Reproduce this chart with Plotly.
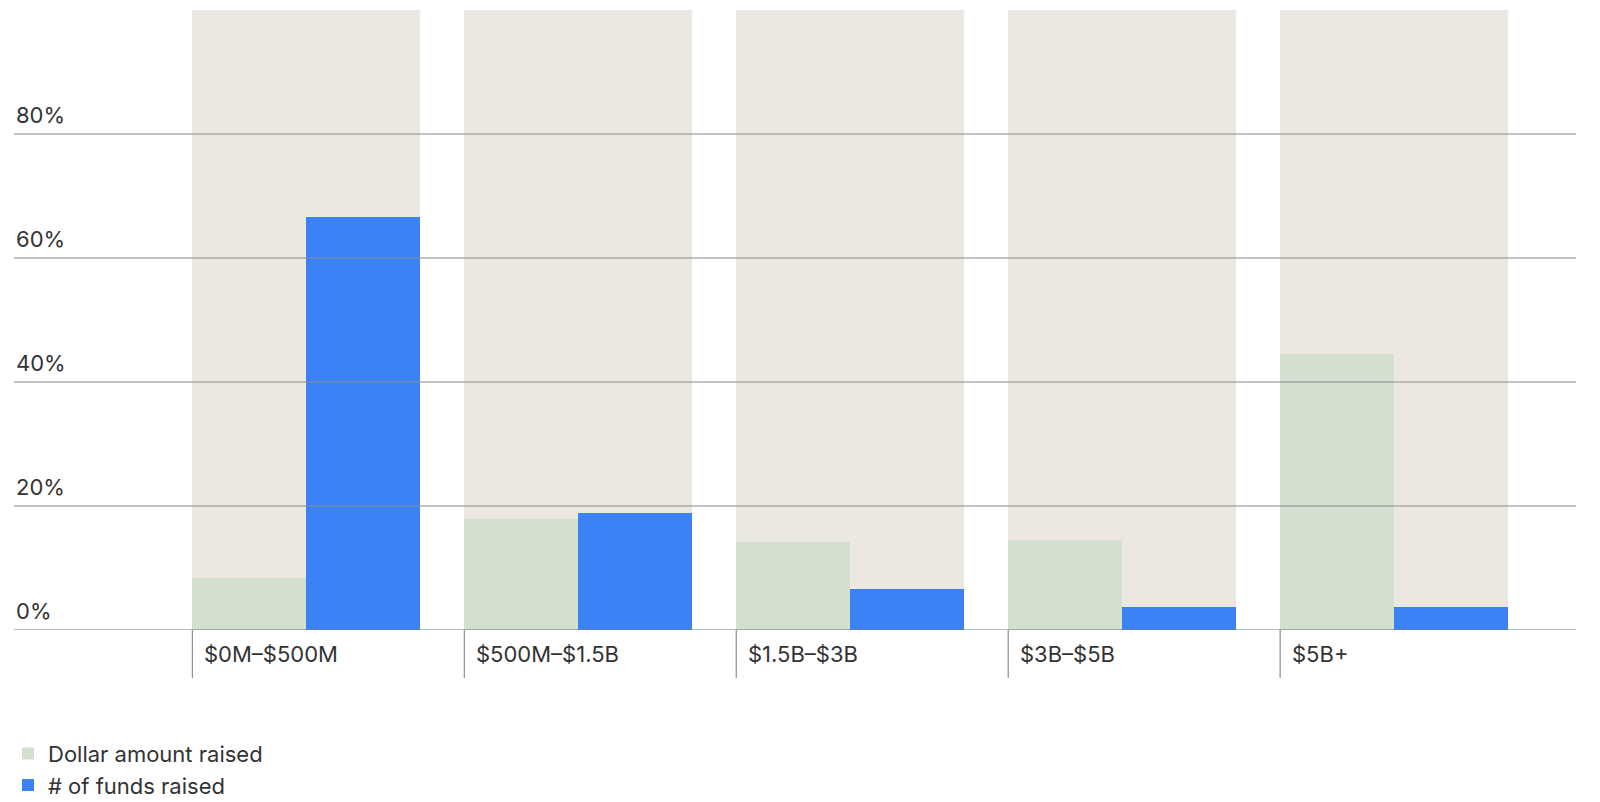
import plotly.graph_objects as go

categories = ["$0M–$500M", "$500M–$1.5B", "$1.5B–$3B", "$3B–$5B", "$5B+"]
dollar_amount = [8.4, 17.9, 14.2, 14.5, 44.5]
num_funds = [66.6, 18.9, 6.6, 3.7, 3.7]
tick_vals = [0, 20, 40, 60, 80]
tick_text = ["0%", "20%", "40%", "60%", "80%"]

xs = list(range(len(categories)))
w = 229 / 273
half = w / 2

fig = go.Figure()
fig.add_trace(go.Bar(x=xs, y=[100] * len(xs), width=w, marker_color="#ede7e1",
                     marker_line_width=0, showlegend=False, hoverinfo="skip"))
fig.add_trace(go.Bar(x=xs, y=dollar_amount, width=half, offset=-half, name="Dollar amount raised",
                     marker_color="#d3dfcf", marker_line_width=0))
fig.add_trace(go.Bar(x=xs, y=num_funds, width=half, offset=0, name="# of funds raised",
                     marker_color="#3a82f6", marker_line_width=0))

font = dict(family="Inter, Roboto, sans-serif", size=22, color="#333333")

for v, t in zip(tick_vals, tick_text):
    fig.add_annotation(x=0, xref="paper", y=v, yref="y", text=t, showarrow=False,
                       xanchor="left", yanchor="bottom", yshift=4, font=font)
    if v > 0:
        fig.add_shape(type="line", xref="paper", x0=0, x1=1, yref="y", y0=v, y1=v,
                      line=dict(color="#8a8a8a", width=1), layer="above")

fig.add_shape(type="line", xref="paper", x0=0, x1=1, yref="y", y0=0, y1=0,
              line=dict(color="#777777", width=1.2), layer="above")

for i, c in enumerate(categories):
    fig.add_shape(type="line", xref="x", x0=i - half, x1=i - half, yref="paper", y0=0, y1=-0.077,
                  line=dict(color="#777777", width=1))
    fig.add_annotation(x=i - half, xref="x", y=-0.063, yref="paper", text=c, showarrow=False,
                       xanchor="left", xshift=10, font=font)

fig.update_layout(
    width=1600, height=802,
    margin=dict(l=0, r=32, t=0, b=180),
    barmode="overlay", bargap=0,
    paper_bgcolor="white", plot_bgcolor="white",
    xaxis=dict(range=[-293.5 / 273, 1274.5 / 273], visible=False),
    yaxis=dict(range=[0, 622 / 6.2], visible=False),
    showlegend=True,
    legend=dict(x=-0.004, y=-0.165, xanchor="left", yanchor="top", font=font,
                traceorder="normal", itemwidth=30, tracegroupgap=0),
)

fig.write_html("out.html")
